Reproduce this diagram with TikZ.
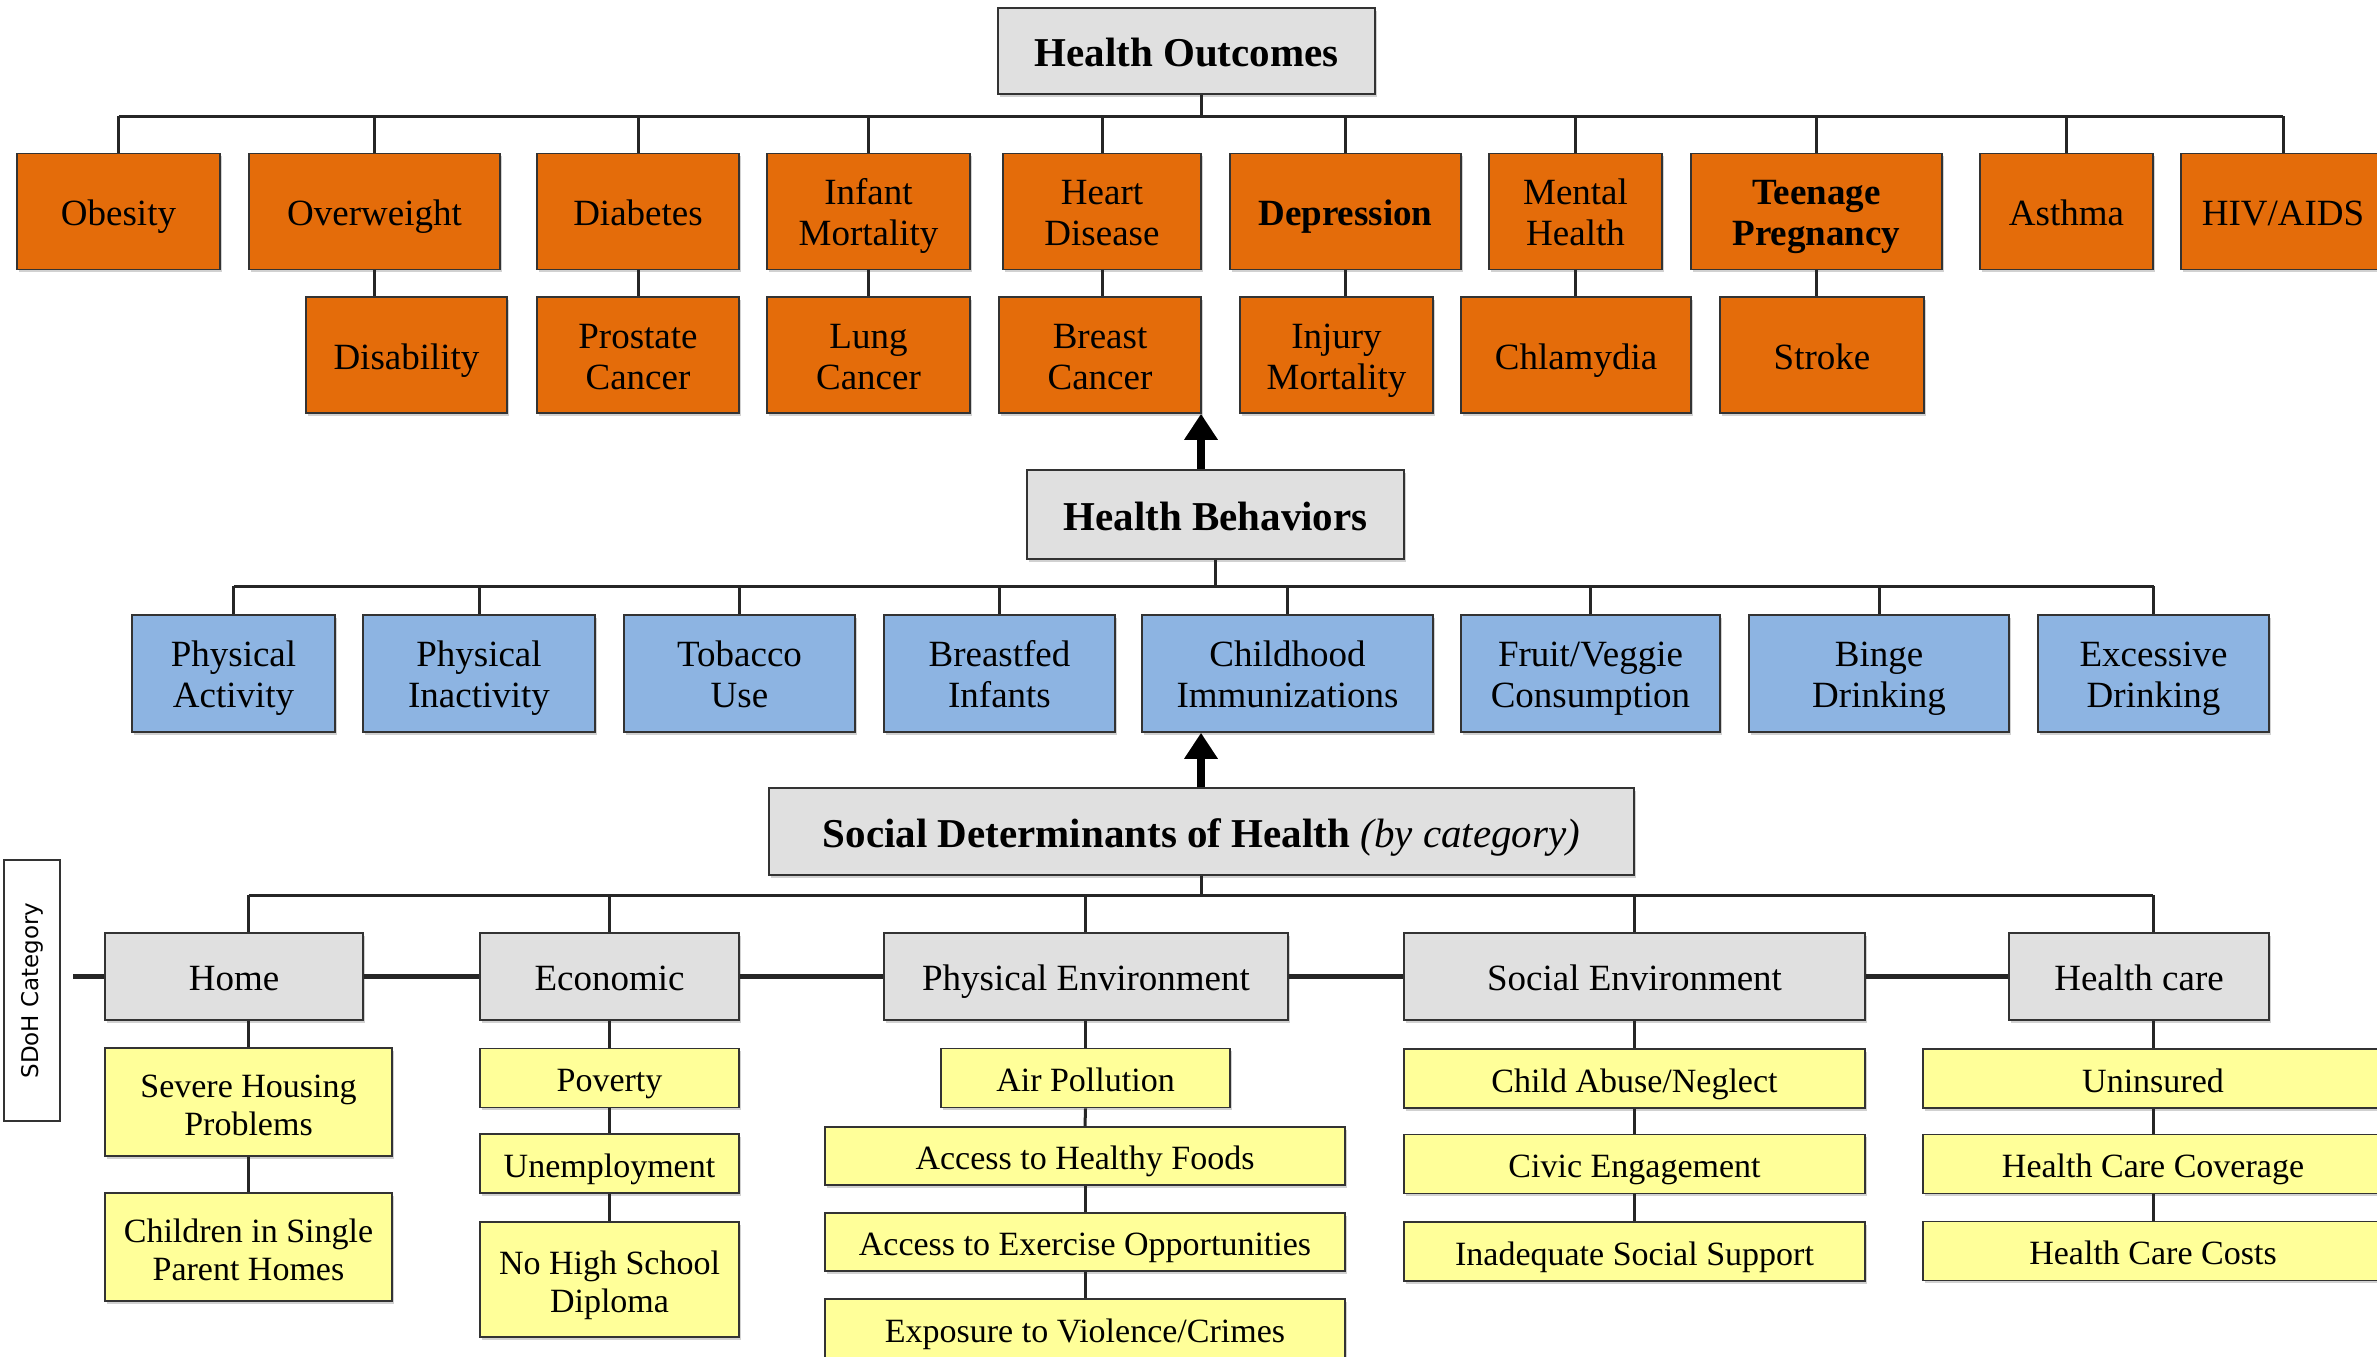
\documentclass[tikz,border=0pt]{standalone}
\usepackage{fontspec}
\setmainfont{Liberation Serif}
\newfontfamily\sidefont{DejaVu Sans}
\usetikzlibrary{arrows.meta,shadows}
\definecolor{headgray}{HTML}{E0E0E0}
\definecolor{outorange}{HTML}{E46C0A}
\definecolor{behblue}{HTML}{8DB4E2}
\definecolor{detyellow}{HTML}{FFFF99}
\newcommand\twolines[2]{\rule{0pt}{40pt}#1\\#2}
\begin{document}
\begin{tikzpicture}[x=1pt,y=-1pt,
	box/.style={draw=black!80,line width=1.6pt,inner sep=2pt,align=center,
		execute at begin node={\rule{0pt}{\dimexpr0.7\baselineskip+12pt\relax}},
		execute at end node=\strut,
		drop shadow={shadow xshift=1.5pt,shadow yshift=-2.5pt,opacity=0.3,fill=black!60}},
	headbox/.style={box,fill=headgray,font=\fontsize{41}{48}\selectfont\bfseries},
	outbox/.style={box,fill=outorange,minimum height=116pt,font=\fontsize{37}{41}\selectfont},
	behbox/.style={box,fill=behblue,minimum height=117pt,font=\fontsize{37}{41}\selectfont},
	catbox/.style={box,fill=headgray,minimum height=87pt,font=\fontsize{37}{41}\selectfont},
	detbox/.style={box,fill=detyellow,minimum height=59pt,font=\fontsize{34}{38}\selectfont},
	bus/.style={line width=3pt,draw=black!85},
	catline/.style={line width=5pt,draw=black!85},
	uparrow/.style={line width=8pt,-{Triangle[width=32pt,length=26pt]}}]
	\useasboundingbox (0,0) rectangle (2377,1357);
	\coordinate (axis) at (1201,0);
	\coordinate (bus1) at (0,116);
	\coordinate (bus2) at (0,586);
	\coordinate (bus3) at (0,895);

	% health outcomes
	\node[headbox,minimum width=377pt,minimum height=86pt] (ho) at (1186.5,51) {Health Outcomes};
	\node[outbox,minimum width=203pt] (ob) at (118.5,211.5) {Obesity};
	\node[outbox,minimum width=251pt] (ow) at (374.5,211.5) {Overweight};
	\node[outbox,minimum width=202pt] (dia) at (638,211.5) {Diabetes};
	\node[outbox,minimum width=203pt] (inf) at (868.5,211.5) {\twolines{Infant}{Mortality}};
	\node[outbox,minimum width=198pt] (hd) at (1102,211.5) {\twolines{Heart}{Disease}};
	\node[outbox,minimum width=231pt] (dep) at (1345.5,211.5) {\bfseries Depression};
	\node[outbox,minimum width=173pt] (mh) at (1575.5,211.5) {\twolines{Mental}{Health}};
	\node[outbox,minimum width=251pt] (tp) at (1816.5,211.5) {\twolines{\bfseries Teenage}{\bfseries Pregnancy}};
	\node[outbox,minimum width=173pt] (ast) at (2066.5,211.5) {Asthma};
	\node[outbox,minimum width=204pt] (hiv) at (2283,211.5) {HIV/AIDS};

	\node[outbox,minimum width=201pt] (dis) at (406.5,355) {Disability};
	\node[outbox,minimum width=202pt] (pc) at (638,355) {\twolines{Prostate}{Cancer}};
	\node[outbox,minimum width=203pt] (lc) at (868.5,355) {\twolines{Lung}{Cancer}};
	\node[outbox,minimum width=202pt] (bc) at (1100,355) {\twolines{Breast}{Cancer}};
	\node[outbox,minimum width=193pt] (im) at (1336.5,355) {\twolines{Injury}{Mortality}};
	\node[outbox,minimum width=230pt] (chl) at (1576,355) {Chlamydia};
	\node[outbox,minimum width=204pt] (str) at (1822,355) {Stroke};

	\draw[bus] (ho.south -| axis) -- (axis |- bus1);
	\draw[bus] (bus1 -| ob.north) -- (bus1 -| hiv.north);
	\foreach \n in {ob,ow,dia,inf,hd,dep,mh,tp,ast,hiv}
		\draw[bus] (bus1 -| \n.north) -- (\n.north);
	\foreach \a/\b in {ow/dis,dia/pc,inf/lc,hd/bc,dep/im,mh/chl,tp/str}
		\draw[bus] (\a.south) -- (\a.south |- \b.north);

	% health behaviors
	\node[headbox,minimum width=377pt,minimum height=89pt] (hb) at (1215.5,514.5) {Health Behaviors};
	\draw[uparrow] (hb.north -| axis) -- (bc.south -| axis);

	\node[behbox,minimum width=203pt] (pa) at (233.5,673.5) {\twolines{Physical}{Activity}};
	\node[behbox,minimum width=232pt] (pin) at (479,673.5) {\twolines{Physical}{Inactivity}};
	\node[behbox,minimum width=231pt] (tu) at (739.5,673.5) {\twolines{Tobacco}{Use}};
	\node[behbox,minimum width=231pt] (bf) at (999.5,673.5) {\twolines{Breastfed}{Infants}};
	\node[behbox,minimum width=291pt] (ci) at (1287.5,673.5) {\twolines{Childhood}{Immunizations}};
	\node[behbox,minimum width=259pt] (fv) at (1590.5,673.5) {\twolines{Fruit/Veggie}{Consumption}};
	\node[behbox,minimum width=260pt] (bd) at (1879,673.5) {\twolines{Binge}{Drinking}};
	\node[behbox,minimum width=231pt] (ed) at (2153.5,673.5) {\twolines{Excessive}{Drinking}};

	\draw[bus] (hb.south) -- (hb.south |- bus2);
	\draw[bus] (bus2 -| pa.north) -- (bus2 -| ed.north);
	\foreach \n in {pa,pin,tu,bf,ci,fv,bd,ed}
		\draw[bus] (bus2 -| \n.north) -- (\n.north);

	% social determinants
	\node[headbox,minimum width=865pt,minimum height=87pt] (sdoh) at (1201.5,831.5)
		{Social Determinants of Health {\mdseries\itshape (by category)}};
	\draw[uparrow] (sdoh.north -| axis) -- (ci.south -| axis);

	\node[draw=black!80,line width=1.6pt,fill=white,minimum width=56pt,minimum height=261pt,
		inner sep=0pt] (side) at (32,990.5) {};
	\node[rotate=90,font=\sidefont\fontsize{23}{26}\selectfont] (sidetxt) at (side.center) {SDoH Category};

	\node[catbox,minimum width=258pt] (home) at (234,976.5) {Home};
	\node[catbox,minimum width=259pt] (econ) at (609.5,976.5) {Economic};
	\node[catbox,minimum width=404pt] (pe) at (1086,976.5) {Physical Environment};
	\node[catbox,minimum width=461pt] (se) at (1634.5,976.5) {Social Environment};
	\node[catbox,minimum width=260pt] (hc) at (2139,976.5) {Health care};

	\coordinate (catstart) at (73,976.5);
	\draw[catline] (catstart) -- (home) -- (econ) -- (pe) -- (se) -- (hc);

	\node[detbox,minimum width=287pt,minimum height=108pt] (sh) at (248.5,1102) {\twolines{Severe Housing}{Problems}};
	\node[detbox,minimum width=287pt,minimum height=108pt] (cs) at (248.5,1247) {\twolines{Children in Single}{Parent Homes}};

	\node[detbox,minimum width=259pt] (pov) at (609.5,1078) {Poverty};
	\node[detbox,minimum width=259pt] (une) at (609.5,1163.5) {Unemployment};
	\node[detbox,minimum width=259pt,minimum height=115pt] (nhs) at (609.5,1279.5) {\twolines{No High School}{Diploma}};

	\node[detbox,minimum width=289pt] (ap) at (1085.5,1078) {Air Pollution};
	\node[detbox,minimum width=520pt,minimum height=58pt] (ahf) at (1085,1156) {Access to Healthy Foods};
	\node[detbox,minimum width=520pt,minimum height=58pt] (aeo) at (1085,1242) {Access to Exercise Opportunities};
	\node[detbox,minimum width=520pt,minimum height=60pt] (evc) at (1085,1329) {Exposure to Violence/Crimes};

	\node[detbox,minimum width=461pt] (ca) at (1634.5,1078.5) {Child Abuse/Neglect};
	\node[detbox,minimum width=461pt] (ce) at (1634.5,1164) {Civic Engagement};
	\node[detbox,minimum width=461pt] (iss) at (1634.5,1251.5) {Inadequate Social Support};

	\node[detbox,minimum width=460pt] (un) at (2153,1078.5) {Uninsured};
	\node[detbox,minimum width=460pt] (hcc) at (2153,1164) {Health Care Coverage};
	\node[detbox,minimum width=460pt] (hcost) at (2153,1251) {Health Care Costs};

	\draw[bus] (sdoh.south) -- (sdoh.south |- bus3);
	\draw[bus] (bus3 -| sh.north) -- (bus3 -| un.north);
	\foreach \c/\d in {home/sh,econ/pov,pe/ap,se/ca,hc/un} {
		\draw[bus] (bus3 -| \d.north) -- (\c.north -| \d.north);
		\draw[bus] (\c.south -| \d.north) -- (\d.north);
	}
	\foreach \a/\b in {sh/cs,pov/une,une/nhs,ap/ahf,ahf/aeo,aeo/evc,ca/ce,ce/iss,un/hcc,hcc/hcost}
		\draw[bus] (\a.south) -- (\b.north);
\end{tikzpicture}
\end{document}
